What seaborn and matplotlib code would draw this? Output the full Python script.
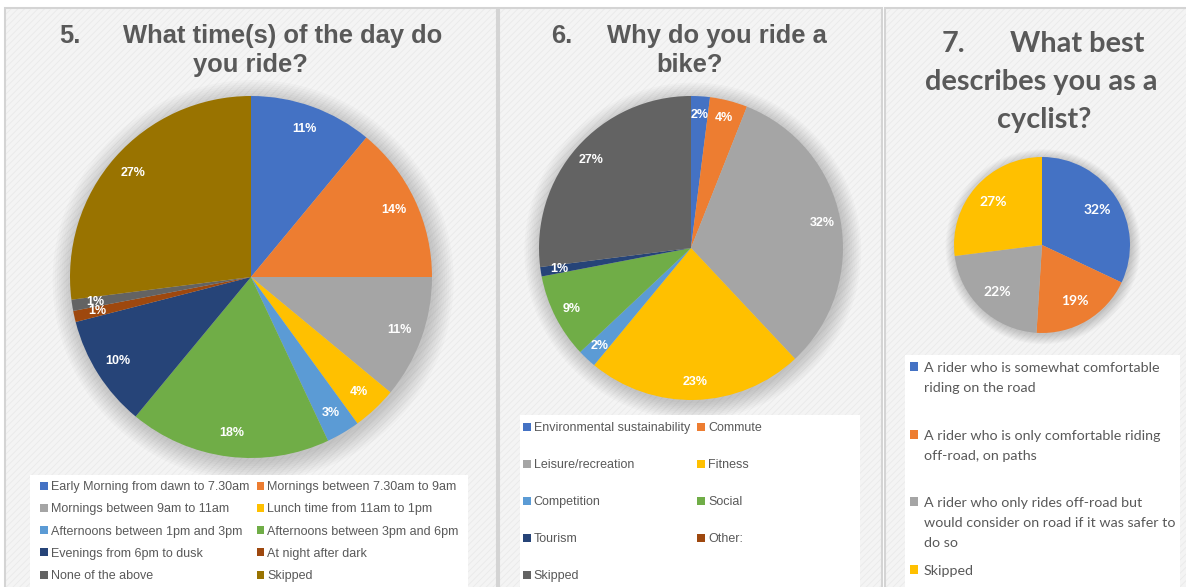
import matplotlib
matplotlib.use("Agg")
import matplotlib.pyplot as plt
from matplotlib.patches import Rectangle, Circle
import seaborn as sns

# ---- survey data -------------------------------------------------------
time_labels = [
    "Early Morning from dawn to 7.30am",
    "Mornings between 7.30am to 9am",
    "Mornings between 9am to 11am",
    "Lunch time from 11am to 1pm",
    "Afternoons between 1pm and 3pm",
    "Afternoons between 3pm and 6pm",
    "Evenings from 6pm to dusk",
    "At night after dark",
    "None of the above",
    "Skipped",
]
time_values = [11, 14, 11, 4, 3, 18, 10, 1, 1, 27]

reason_labels = [
    "Environmental sustainability",
    "Commute",
    "Leisure/recreation",
    "Fitness",
    "Competition",
    "Social",
    "Tourism",
    "Other:",
    "Skipped",
]
reason_values = [2, 4, 32, 23, 2, 9, 1, 0, 27]

type_labels = [
    "A rider who is somewhat comfortable\nriding on the road",
    "A rider who is only comfortable riding\noff-road, on paths",
    "A rider who only rides off-road but\nwould consider on road if it was safer to\ndo so",
    "Skipped",
]
type_values = [32, 19, 22, 27]

office = ["#4472C4", "#ED7D31", "#A5A5A5", "#FFC000", "#5B9BD5",
          "#70AD47", "#264478", "#9E480E", "#636363", "#997300"]
time_colors = sns.color_palette(office, 10)
reason_colors = sns.color_palette(office[:9], 9)
type_colors = sns.color_palette(office[:4], 4)

# ---- style -------------------------------------------------------------
sns.set_theme(style="white")
plt.rcParams["font.family"] = ["Liberation Sans", "DejaVu Sans"]
plt.rcParams["hatch.linewidth"] = 0.6
TXT = "#595959"
ARIAL = ["Liberation Sans", "DejaVu Sans"]
CALIBRI = ["Lato", "DejaVu Sans"]

W, H = 1186, 587
fig = plt.figure(figsize=(W / 100, H / 100), dpi=100)
fig.patch.set_facecolor("white")


def fx(x):
    return x / W


def fy(y):
    return 1 - y / H


def panel(x0, x1, y0=8, y1=600):
    fig.add_artist(Rectangle((fx(x0), fy(y1)), (x1 - x0) / W, (y1 - y0) / H,
                             transform=fig.transFigure, facecolor="#f4f4f4",
                             edgecolor="#eaeaea", lw=0, hatch="/////", zorder=0))
    fig.add_artist(Rectangle((fx(x0), fy(y1)), (x1 - x0) / W, (y1 - y0) / H,
                             transform=fig.transFigure, facecolor="none",
                             edgecolor="#d4d4d4", lw=1.5, zorder=1))


def white_box(x0, x1, y0, y1):
    fig.add_artist(Rectangle((fx(x0), fy(y1)), (x1 - x0) / W, (y1 - y0) / H,
                             transform=fig.transFigure, facecolor="white",
                             edgecolor="none", zorder=1))


def draw_pie(cx, cy, r, values, colors, pctdist, fsize, family):
    pad = 1.15
    ax = fig.add_axes([fx(cx - r * pad), fy(cy + r * pad),
                       2 * r * pad / W, 2 * r * pad / H])
    for k in range(10):
        ax.add_patch(Circle((0.012, -0.02), 1 + 0.012 * k, color="black",
                            alpha=0.018, lw=0, zorder=0))
    wedges, _, autos = ax.pie(
        values, colors=colors, startangle=90, counterclock=False,
        autopct=lambda p: f"{p:.0f}%" if p >= 0.5 else "",
        pctdistance=pctdist, wedgeprops=dict(linewidth=0, zorder=2),
        textprops=dict(color="white", fontsize=fsize, fontweight="bold",
                       family=family))
    ax.set_xlim(-pad, pad)
    ax.set_ylim(-pad, pad)
    ax.set_aspect("equal")
    ax.axis("off")
    return wedges


panel(5, 497)
panel(499, 882)
panel(885, 1200)

white_box(30, 468, 475, 600)
white_box(520, 860, 415, 600)
white_box(905, 1180, 355, 600)

# ---- titles ------------------------------------------------------------
tkw = dict(color=TXT, fontweight="bold", fontsize=18.4, va="baseline",
           ha="center", transform=fig.transFigure)
fig.text(fx(70), fy(43), "5.", **tkw)
fig.text(fx(283), fy(43), "What time(s) of the day do", **tkw)
fig.text(fx(250), fy(72), "you ride?", **tkw)

fig.text(fx(562), fy(43), "6.", **tkw)
fig.text(fx(717), fy(43), "Why do you ride a", **tkw)
fig.text(fx(690), fy(72), "bike?", **tkw)

tkw3 = dict(tkw, fontsize=20.8, family=CALIBRI)
fig.text(fx(953), fy(52), "7.", **tkw3)
fig.text(fx(1077), fy(52), "What best", **tkw3)
fig.text(fx(1041), fy(90), "describes you as a", **tkw3)
fig.text(fx(1044), fy(128), "cyclist?", **tkw3)

# ---- pies --------------------------------------------------------------
w1 = draw_pie(251, 277, 181, time_values, time_colors, 0.87, 9, ARIAL)
w2 = draw_pie(691, 248, 152, reason_values, reason_colors, 0.88, 9, ARIAL)
w3 = draw_pie(1042, 245, 88, type_values, type_colors, 0.74, 10, CALIBRI)

# ---- legends -----------------------------------------------------------
lkw = dict(loc="upper left", frameon=False, fontsize=9, labelcolor=TXT,
           handlelength=0.6, handleheight=0.6, handletextpad=0.25,
           columnspacing=0.6, borderpad=0, borderaxespad=0)

order1 = [0, 2, 4, 6, 8, 1, 3, 5, 7, 9]
fig.legend([w1[i] for i in order1], [time_labels[i] for i in order1], ncol=2,
           bbox_to_anchor=(fx(40), fy(481)), labelspacing=0.82, **lkw)

order2 = [0, 2, 4, 6, 8, 1, 3, 5, 7]
fig.legend([w2[i] for i in order2], [reason_labels[i] for i in order2], ncol=2,
           bbox_to_anchor=(fx(523), fy(422)), labelspacing=2.0, **lkw)

legend3_tops = [362, 430, 497, 565]
for wedge, label, top in zip(w3, type_labels, legend3_tops):
    leg = fig.legend([wedge], [label], loc="upper left", frameon=False,
                     labelcolor=TXT, handlelength=0.55,
                     handleheight=0.55, handletextpad=0.42, borderpad=0,
                     borderaxespad=0, bbox_to_anchor=(fx(910), fy(top)),
                     prop=dict(family=CALIBRI, size=10.3))
    for item in leg._legend_handle_box.get_children()[0].get_children():
        item.align = "top"
    for t in leg.get_texts():
        t.set_linespacing(1.78)

fig.savefig("out.png", dpi=100, facecolor="white")
